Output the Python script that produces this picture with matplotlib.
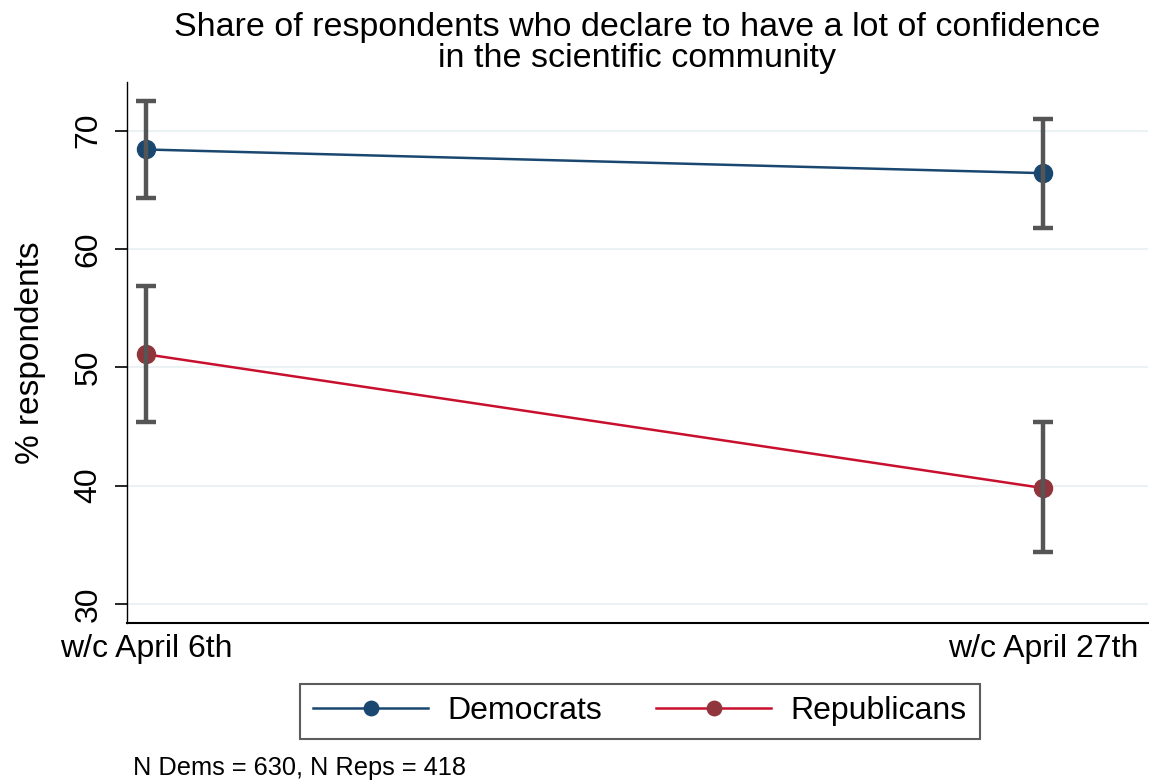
import numpy as np
import matplotlib.pyplot as plt

plt.rcParams['font.family'] = ['Liberation Sans', 'DejaVu Sans']

# Share with "a lot of confidence" in the scientific community, with 95% CIs
weeks = ["w/c April 6th", "w/c April 27th"]
dem_share = [68.4, 66.4]
dem_lo = [64.3, 61.8]
dem_hi = [72.5, 71.0]
rep_share = [51.1, 39.8]
rep_lo = [45.4, 34.4]
rep_hi = [56.9, 45.4]
y_ticks = [30, 40, 50, 60, 70]

dem_color = '#1a476f'
rep_line = '#c8102e'
rep_marker = '#90353b'
ci_color = '#555555'

fig = plt.figure(figsize=(11.49, 7.84), dpi=100)
ax = fig.add_axes([0.1105, 0.2054, 0.8885, 0.69])

x = np.arange(len(weeks))

ax.plot(x, dem_share, color=dem_color, lw=1.8, marker='o', ms=13,
        mfc=dem_color, mec=dem_color, zorder=3, label='Democrats')
ax.plot(x, rep_share, color=rep_line, lw=1.8, marker='o', ms=13,
        mfc=rep_marker, mec=rep_marker, zorder=3, label='Republicans')

# confidence intervals sit on top of the markers
for share, lo, hi in [(dem_share, dem_lo, dem_hi), (rep_share, rep_lo, rep_hi)]:
    share = np.array(share)
    err = [share - np.array(lo), np.array(hi) - share]
    ax.errorbar(x, share, yerr=err, fmt='none', ecolor=ci_color,
                elinewidth=3.2, capsize=7, capthick=3.2, zorder=4)

ax.set_xlim(-0.021, 1.117)
ax.set_ylim(28.4, 74.1)
ax.set_xticks(x)
ax.set_xticklabels(weeks, fontsize=23)
ax.set_yticks(y_ticks)
ax.set_yticklabels([str(t) for t in y_ticks], fontsize=23, rotation=90, va='center')
ax.tick_params(axis='y', length=9, width=1.2, pad=8)
ax.tick_params(axis='x', length=0, pad=8)
ax.grid(axis='y', color='#eaf2f3', lw=1.5, zorder=0)
ax.set_axisbelow(True)
for side in ['top', 'right']:
    ax.spines[side].set_visible(False)
ax.spines['left'].set_linewidth(1.0)
ax.spines['bottom'].set_linewidth(1.5)

ax.set_ylabel('% respondents', fontsize=24, labelpad=20)
ax.set_title('Share of respondents who declare to have a lot of confidence\nin the scientific community',
             fontsize=24.5, linespacing=1.0, pad=11)

leg = fig.legend(loc='center', bbox_to_anchor=(0.557, 0.0925), ncol=2, fontsize=23,
                 frameon=True, fancybox=False, edgecolor='#333333', markerscale=0.8,
                 handlelength=3.6, handletextpad=0.6, columnspacing=1.7, borderpad=0.4,
                 borderaxespad=0.3)
leg.get_frame().set_linewidth(1.5)

fig.text(0.116, 0.012, 'N Dems = 630, N Reps = 418', fontsize=18.3)

fig.savefig('out.png', dpi=100)
